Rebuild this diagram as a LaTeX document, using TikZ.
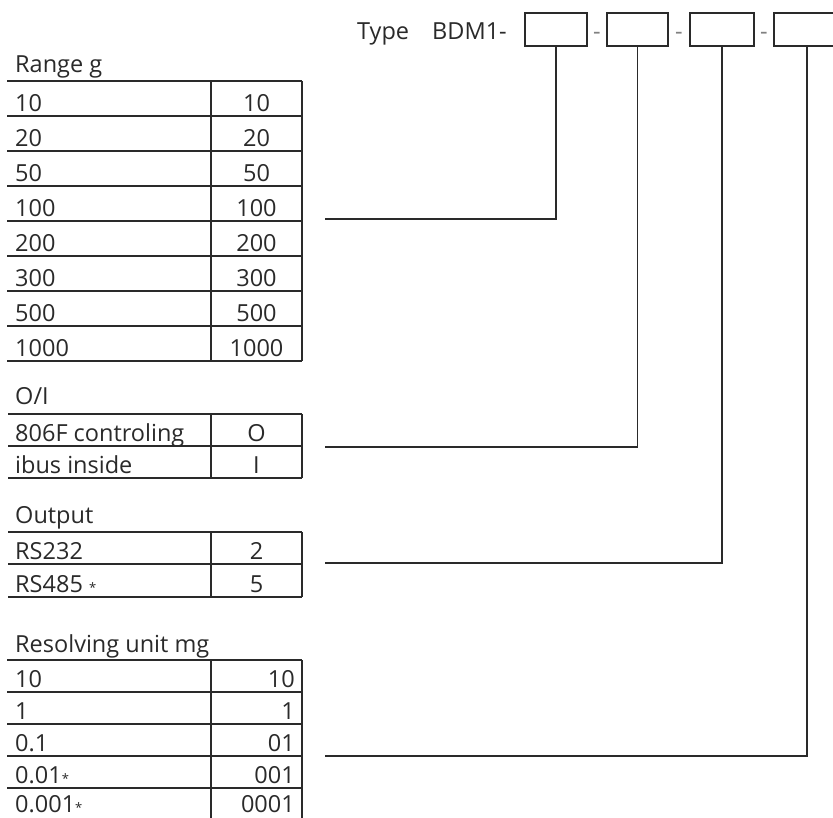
\documentclass[tikz,border=0pt]{standalone}
\usepackage{fontspec}
\setmainfont{Open Sans}
\definecolor{ink}{HTML}{2A2A2A}
\definecolor{rule}{HTML}{2A2A2A}
\newcommand\smstar{{\fontsize{13}{13}\selectfont *}}
\begin{document}
\begin{tikzpicture}[x=1pt,y=-1pt,
  txt/.style={inner sep=0pt,anchor=base west,text=ink,font=\fontsize{23.5}{27}\selectfont},
  valc/.style={inner sep=0pt,anchor=base,text=ink,font=\fontsize{23.5}{27}\selectfont},
  valr/.style={inner sep=0pt,anchor=base east,text=ink,font=\fontsize{23.5}{27}\selectfont},
  tab/.style={draw=rule,line width=1.2pt},
  codebox/.style={draw=rule,line width=1.2pt,inner sep=0pt,minimum height=33pt},
  link/.style={draw=rule,line width=1.2pt}]
\useasboundingbox (0,0) rectangle (833,817);
\fill[white] (0,0) rectangle (833,817);
% Header
\node[txt] (type) at (357,39) {Type};
\node[txt] (bdm) at (432,39) {BDM1-};
\node[codebox,minimum width=62pt] (b1) at (556,29.5) {};
\node[codebox,minimum width=61pt] (b2) at (637.5,29.5) {};
\node[codebox,minimum width=64pt] (b3) at (722,29.5) {};
\node[codebox,minimum width=66pt] (b4) at (807,29.5) {};
\node[valc,text=gray] (d1) at (597,39) {-};
\node[valc,text=gray] (d2) at (679,39) {-};
\node[valc,text=gray] (d3) at (764,39) {-};
% Table 1: Range g
\node[txt] (t1) at (15,72) {Range g};
\foreach \yy in {81,116,151,186,221,256,291,326,361} {\draw[tab] (7,\yy) -- (302,\yy);}
\draw[tab] (211,81) -- (211,361);
\draw[tab] (302,81) -- (302,361);
\foreach \v [count=\i from 0] in {10,20,50,100,200,300,500,1000} {
  \node[txt] (r1l\i) at (15,{116+35*\i-5}) {\v};
  \node[valc] (r1r\i) at (256.5,{116+35*\i-5}) {\v};
}
% Table 2: O/I
\node[txt] (t2) at (15,404) {O/I};
\foreach \yy in {414,446,478} {\draw[tab] (8,\yy) -- (302,\yy);}
\draw[tab] (211,414) -- (211,478);
\draw[tab] (302,414) -- (302,478);
\node[txt] (r2l0) at (15,441) {806F controling};
\node[valc] (r2r0) at (256.5,441) {O};
\node[txt] (r2l1) at (15,473) {ibus inside};
\node[valc] (r2r1) at (256.5,473) {I};
% Table 3: Output
\node[txt] (t3) at (15,523) {Output};
\foreach \yy in {532,564,597} {\draw[tab] (8,\yy) -- (302,\yy);}
\draw[tab] (211,532) -- (211,597);
\draw[tab] (302,532) -- (302,597);
\node[txt] (r3l0) at (15,559) {RS232};
\node[valc] (r3r0) at (256.5,559) {2};
\node[txt] (r3l1) at (15,592) {RS485 \smstar};
\node[valc] (r3r1) at (256.5,592) {5};
% Table 4: Resolving unit mg
\node[txt] (t4) at (15,652) {Resolving unit mg};
\foreach \yy in {660,692,724,756,788,820} {\draw[tab] (7,\yy) -- (302,\yy);}
\draw[tab] (211,660) -- (211,820);
\draw[tab] (302,660) -- (302,820);
\node[txt] (r4l0) at (15,687) {10};   \node[valr] (r4r0) at (295,687) {10};
\node[txt] (r4l1) at (15,719) {1};    \node[valr] (r4r1) at (295,719) {1};
\node[txt] (r4l2) at (15,751) {0.1};  \node[valr] (r4r2) at (295,751) {01};
\node[txt] (r4l3) at (15,783) {0.01\smstar}; \node[valr] (r4r3) at (295,783) {001};
\node[txt] (r4l4) at (15,812) {0.001\smstar}; \node[valr] (r4r4) at (295,812) {0001};
% Connectors
\coordinate (c1) at (325,219);
\coordinate (c2) at (325,447);
\coordinate (c3) at (325,563);
\coordinate (c4) at (325,756);
\draw[link] (b1.south) |- (c1);
\draw[link] (b2.south) |- (c2);
\draw[link] (b3.south) |- (c3);
\draw[link] (b4.south) |- (c4);
\end{tikzpicture}
\end{document}
